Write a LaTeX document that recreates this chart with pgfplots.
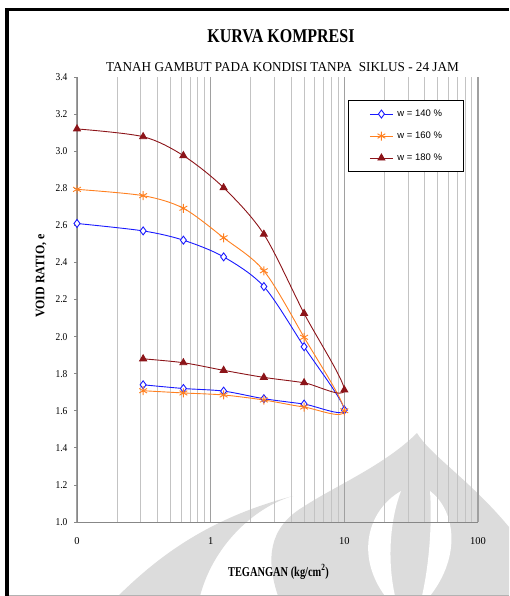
\documentclass[border=0pt]{standalone}
\usepackage{fontspec}
\setmainfont{Liberation Serif}
\newfontfamily\legendfont{Liberation Sans}
\usepackage{graphicx}
\usepackage{pgfplots}
\pgfplotsset{compat=1.18}

\definecolor{serA}{RGB}{25,25,255}
\definecolor{serB}{RGB}{255,128,32}
\definecolor{serC}{RGB}{140,20,25}
\definecolor{gridminor}{RGB}{195,195,195}
\definecolor{gridmajor}{RGB}{160,160,160}
\definecolor{axisgray}{RGB}{135,135,135}
\definecolor{wmgray}{RGB}{220,220,220}

\begin{document}
\begin{tikzpicture}
\useasboundingbox (0,0) rectangle (509pt,-596pt);
\begin{scope}[x=1pt,y=-1pt]
  % faint emblem in the background
  \fill[wmgray] (118,596) .. controls (150,565) and (200,520) .. (293,496)
                .. controls (260,505) and (215,540) .. (200,596) -- cycle;
  \fill[wmgray] (278,596) .. controls (266,560) and (268,528) .. (303,507)
                .. controls (335,486) and (385,465) .. (417,433)
                .. controls (430,455) and (470,480) .. (509,527)
                -- (509,596) -- cycle;
  \fill[white] (401,491) .. controls (368,510) and (355,555) .. (385,596)
               -- (395,596) .. controls (387,560) and (390,520) .. (401,491) -- cycle;
  \fill[white] (430,491) .. controls (455,510) and (462,555) .. (430,596)
               -- (422,596) .. controls (430,560) and (432,520) .. (430,491) -- cycle;
  % page frame
  \fill[black] (5,8) rectangle (9,596);
  \fill[black] (5,8) rectangle (509,11);
  \draw[gray!60, line width=1pt] (9,595) -- (509,595);
  % headings
  \node[anchor=base, inner sep=0pt, font=\bfseries\fontsize{19.5}{22}\selectfont] at (281,42.5) {\scalebox{0.82}[1]{KURVA KOMPRESI}};
  \node[anchor=base, inner sep=0pt, font=\fontsize{13.6}{16}\selectfont] at (282.5,72) {\scalebox{0.97}[1]{TANAH GAMBUT PADA KONDISI TANPA\ \ SIKLUS - 24 JAM}};
\end{scope}

\begin{axis}[
  at={(77pt,-522pt)}, anchor=south west,
  scale only axis, width=401pt, height=445pt,
  xmode=log, xmin=0.1, xmax=100, ymin=1, ymax=3.4,
  axis lines*=left,
  axis line style={axisgray, line width=0.8pt},
  /pgf/number format/assume math mode=true,
  xtick={0.1,1,10,100}, xticklabels={0,1,10,100},
  minor xtick={0.2,0.3,0.4,0.5,0.6,0.7,0.8,0.9,2,3,4,5,6,7,8,9,20,30,40,50,60,70,80,90},
  xmajorgrids, xminorgrids,
  major x grid style={gridmajor, line width=1.1pt},
  minor x grid style={gridminor, line width=0.8pt},
  xtick style={draw=none}, minor x tick style={draw=none},
  ytick={1,1.2,1.4,1.6,1.8,2,2.2,2.4,2.6,2.8,3,3.2,3.4},
  yticklabel={\scalebox{0.9}[1]{\pgfmathprintnumber[fixed,fixed zerofill,precision=1]{\tick}}},
  ytick style={axisgray, line width=0.8pt},
  tick align=outside, major tick length=3pt,
  tick label style={font=\fontsize{10.5}{12}\selectfont},
  xticklabel style={yshift=-9pt},
  yticklabel style={xshift=-3pt},
  xlabel={\scalebox{0.77}[1]{\textbf{TEGANGAN (kg/cm\textsuperscript{2})}}},
  xlabel style={at={(rel axis cs:0.5025,-0.112)}, anchor=center, font=\fontsize{13.5}{15}\selectfont},
  ylabel={\scalebox{0.92}[1]{\textbf{VOID RATIO, e}}},
  ylabel style={at={(rel axis cs:-0.0898,0.553)}, anchor=center, font=\fontsize{13}{15}\selectfont},
  legend image code/.code={\draw[mark repeat=2,mark phase=2,#1] plot coordinates {(0pt,0pt) (11.5pt,0pt) (23pt,0pt)};},
  legend style={at={(rel axis cs:0.676,0.948)}, anchor=north west,
    draw=black, line width=0.8pt, fill=white,
    font=\legendfont\fontsize{9.5}{11}\selectfont,
    inner xsep=21pt, inner ysep=9pt, row sep=13pt, column sep=4pt,
    nodes={inner sep=0pt, text height=7pt, text depth=2pt},
    cells={anchor=west}},
  every axis plot/.append style={line width=0.9pt, smooth, tension=0.5},
]
\addplot[serA, mark=diamond*, mark size=4pt, mark options={fill=white, solid, line width=0.9pt}] coordinates {
  (0.1,2.610) (0.3125,2.570) (0.625,2.520) (1.25,2.430) (2.5,2.270) (5,1.945) (10,1.604)
  (5,1.636) (2.5,1.665) (1.25,1.706) (0.625,1.720) (0.3125,1.740)};
\addlegendentry{w = 140 \%}
\addplot[serB, mark=asterisk, mark size=4.5pt, mark options={solid, line width=0.9pt}] coordinates {
  (0.1,2.794) (0.3125,2.760) (0.625,2.692) (1.25,2.533) (2.5,2.355) (5,1.996) (10,1.600)
  (5,1.620) (2.5,1.658) (1.25,1.685) (0.625,1.696) (0.3125,1.708)};
\addlegendentry{w = 160 \%}
\addplot[serC, mark=triangle*, mark size=4pt, mark options={fill=serC, solid}] coordinates {
  (0.1,3.120) (0.3125,3.078) (0.625,2.976) (1.25,2.803) (2.5,2.552) (5,2.125) (10,1.712)
  (5,1.751) (2.5,1.780) (1.25,1.818) (0.625,1.859) (0.3125,1.880)};
\addlegendentry{w = 180 \%}
\end{axis}
\end{tikzpicture}
\end{document}
